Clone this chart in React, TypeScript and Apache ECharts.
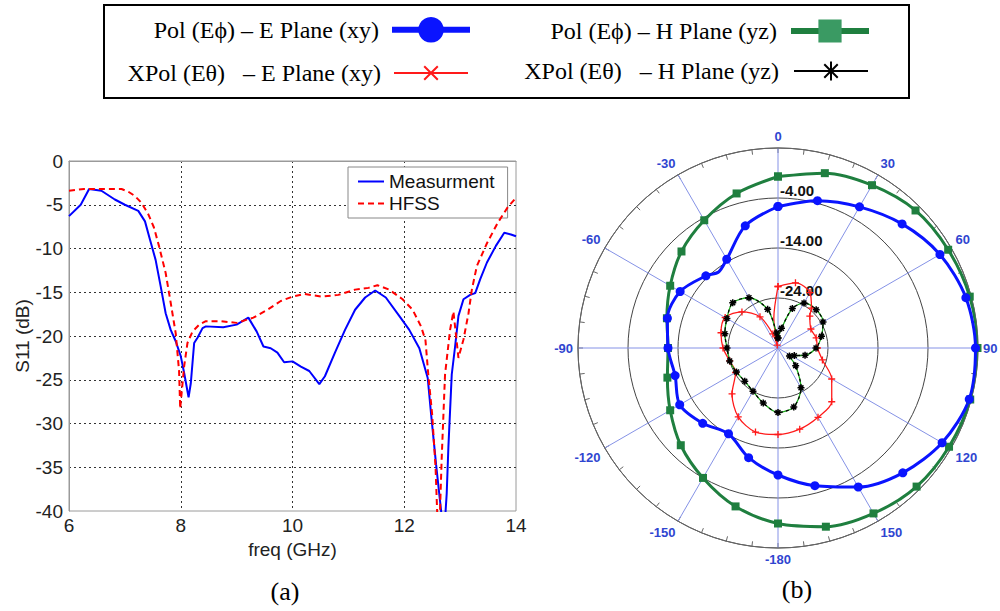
import React, { useEffect, useRef } from 'react';
import * as echarts from 'echarts';

// ---------- (a) S11 data ----------
const measFreq = [6.0, 6.21, 6.36, 6.58, 6.82, 7.0, 7.24, 7.36, 7.45, 7.55, 7.64, 7.73, 7.82, 7.91, 8.0, 8.06, 8.14, 8.18, 8.24, 8.3, 8.39, 8.45, 8.76, 9.0, 9.21, 9.36, 9.48, 9.61, 9.73, 9.85, 10.0, 10.15, 10.3, 10.48, 10.58, 10.76, 10.94, 11.12, 11.3, 11.48, 11.67, 11.91, 12.09, 12.27, 12.42, 12.48, 12.57, 12.66, 12.68, 12.72, 12.76, 12.79, 12.85, 12.91, 12.97, 13.06, 13.18, 13.27, 13.36, 13.48, 13.64, 13.79, 13.91, 14.0];
const measDb = [-6.3, -5.0, -3.2, -3.4, -4.4, -5.0, -5.7, -6.9, -9.0, -11.3, -14.3, -17.4, -19.3, -20.6, -22.3, -24.2, -27.0, -25.4, -20.8, -20.2, -19.1, -18.9, -19.0, -18.7, -17.9, -19.5, -21.2, -21.4, -21.9, -23.0, -22.9, -23.5, -24.0, -25.5, -24.6, -21.9, -19.3, -17.0, -15.6, -14.8, -15.6, -17.7, -19.3, -21.4, -24.8, -28.9, -34.7, -40.0, -42.0, -42.0, -38.0, -32.7, -24.4, -21.2, -17.7, -15.8, -15.3, -15.1, -13.5, -11.6, -9.7, -8.2, -8.4, -8.6];
const hfssFreq = [6.0, 6.27, 6.6, 6.94, 7.06, 7.18, 7.3, 7.42, 7.52, 7.61, 7.73, 7.82, 7.91, 7.97, 7.99, 8.06, 8.12, 8.21, 8.33, 8.45, 8.7, 9.0, 9.3, 9.55, 9.79, 10.0, 10.21, 10.52, 10.82, 11.12, 11.36, 11.52, 11.73, 11.97, 12.15, 12.3, 12.38, 12.43, 12.5, 12.56, 12.6, 12.63, 12.67, 12.73, 12.82, 12.88, 12.97, 13.06, 13.15, 13.21, 13.3, 13.48, 13.67, 13.85, 14.0];
const hfssDb = [-3.4, -3.2, -3.2, -3.2, -3.5, -4.0, -4.8, -6.1, -7.6, -9.7, -12.8, -16.2, -19.7, -24.0, -28.3, -23.5, -20.8, -19.5, -18.7, -18.3, -18.3, -18.5, -17.9, -17.0, -16.0, -15.5, -15.2, -15.5, -15.3, -14.7, -14.5, -14.2, -14.7, -15.8, -17.0, -18.9, -20.5, -24.4, -29.0, -35.0, -42.0, -42.0, -34.0, -24.4, -19.3, -17.2, -22.5, -20.4, -17.4, -14.7, -12.0, -9.4, -7.1, -5.3, -4.2];

// ---------- (b) radiation pattern data (dB, angle in degrees clockwise from top) ----------
const polEAngles = [0, 15, 30, 45, 60, 75, 90, 105, 120, 135, 150, 165, 180, 195, 210, 225, 240, 255, 270, 285, 300, 315, 322, 330, 345, 360];
const polEDb = [-5.7, -3.5, -1.4, 1.1, 3.4, 4.9, 5.5, 5.6, 3.9, 1.3, -1.9, -5.5, -8.6, -11.3, -14.2, -12.7, -11.3, -12.7, -12.0, -11.1, -11.4, -13.6, -14.7, -13.5, -8.7, -5.7];
const polHAngles = [0, 15, 30, 45, 60, 75, 90, 105, 120, 135, 150, 165, 180, 195, 210, 225, 240, 255, 270, 285, 300, 315, 330, 345, 360];
const polHDb = [0.3, 2.2, 3.6, 4.9, 5.3, 5.7, 5.9, 5.8, 5.5, 5.2, 4.2, 3.0, 1.1, -1.2, -4.0, -6.5, -9.1, -11.1, -12.0, -11.0, -9.1, -6.7, -4.5, -2.0, 0.3];
const xpolEAngles = [0, 15, 30, 40, 45, 60, 75, 90, 105, 120, 135, 150, 165, 180, 195, 210, 225, 240, 255, 270, 285, 300, 315, 330, 340, 345, 352, 360];
const xpolEDb = [-21.7, -20.5, -21.2, -23.6, -25.0, -26.4, -26.1, -26.1, -24.8, -21.6, -18.8, -18.0, -17.2, -16.7, -16.6, -18.1, -21.0, -24.2, -24.0, -23.0, -22.2, -21.8, -23.8, -26.8, -31.0, -33.4, -28.0, -21.7];
const xpolHAngles = [0, 10, 20, 30, 45, 60, 75, 90, 105, 115, 125, 135, 150, 165, 180, 195, 210, 225, 240, 255, 270, 285, 300, 315, 330, 345, 355, 360];
const xpolHDb = [-32.0, -30.0, -25.6, -23.6, -23.2, -23.6, -25.0, -26.4, -28.4, -30.4, -31.2, -29.0, -24.8, -21.8, -21.1, -22.6, -24.0, -24.6, -24.4, -24.0, -23.8, -23.0, -22.2, -21.2, -22.4, -26.0, -31.0, -32.0];

// radial scale: centre = -34 dB, rings every 10 dB
const DB_CENTER = -34;
const DB_OUTER = 6;
const RING_STEP = 10;
const angleTickValues = [0, 30, 60, 90, 120, 150, 180, 210, 240, 270, 300, 330];

const NAME_POL_E = 'Pol (Eϕ) – E Plane (xy)';
const NAME_POL_H = 'Pol (Eϕ) – H Plane (yz)';
const NAME_XPOL_E = 'XPol (Eθ)\u00a0\u00a0 – E Plane (xy)';
const NAME_XPOL_H = 'XPol (Eθ)\u00a0\u00a0 – H Plane (yz)';

const PLUS = 'path://M0,5L10,5M5,0L5,10';
const STAR = 'path://M5,0L5,10M1.5,1.5L8.5,8.5M8.5,1.5L1.5,8.5M0,5L10,5';

const SANS = 'Liberation Sans, Arial, sans-serif';
const SERIF = 'Liberation Serif, Times New Roman, serif';

function polarData(angles: number[], db: number[], markEvery: number) {
  return angles.map((a, i) => {
    const v = [db[i] - DB_CENTER, a];
    return a % markEvery === 0 ? v : { value: v, symbol: 'none' };
  });
}

export default function App() {
  const ref = useRef<HTMLDivElement>(null);
  useEffect(() => {
    if (!ref.current) return;
    const chart = echarts.init(ref.current, undefined, { renderer: 'svg' });
    const option: any = {
      animation: false,
      backgroundColor: '#ffffff',
      textStyle: { fontFamily: SANS },
      grid: {
        left: 69, right: 484, top: 161, bottom: 100,
        show: true, borderColor: '#9a9a9a', borderWidth: 1, backgroundColor: 'transparent',
      },
      xAxis: {
        type: 'value', min: 6, max: 14, interval: 2,
        name: 'freq (GHz)', nameLocation: 'middle', nameGap: 27,
        nameTextStyle: { fontSize: 19, color: '#222', fontFamily: SANS },
        axisLine: { show: true, lineStyle: { color: '#9a9a9a' } },
        axisTick: { show: false },
        axisLabel: { fontSize: 19, color: '#222', margin: 5, fontFamily: SANS },
        splitLine: { show: true, showMinLine: false, showMaxLine: false, lineStyle: { type: [2, 3], color: '#333', width: 1 } },
      },
      yAxis: {
        type: 'value', min: -40, max: 0, interval: 5,
        name: 'S11 (dB)', nameLocation: 'middle', nameGap: 34,
        nameTextStyle: { fontSize: 19, color: '#222', fontFamily: SANS },
        axisLine: { show: true, lineStyle: { color: '#9a9a9a' } },
        axisTick: { show: false },
        axisLabel: { fontSize: 19, color: '#222', margin: 6, fontFamily: SANS },
        splitLine: { show: true, showMinLine: false, showMaxLine: false, lineStyle: { type: [2, 3], color: '#333', width: 1 } },
      },
      polar: { center: [778, 348], radius: 200 },
      angleAxis: {
        type: 'value', min: 0, max: 360, interval: 30, startAngle: 90, clockwise: true,
        axisLine: { show: true, lineStyle: { color: '#666', width: 1 } },
        axisTick: { show: true, inside: true, length: 5, lineStyle: { color: '#666' } },
        minorTick: { show: true, splitNumber: 4, length: 5, lineStyle: { color: '#666' } },
        axisLabel: {
          margin: 5, color: '#2f45d0', fontWeight: 'bold', fontSize: 13, fontFamily: SANS,
          formatter: (v: number) => (angleTickValues.indexOf(v) < 0 ? '' : String(v <= 150 ? v : v - 360)),
        },
        splitLine: { show: true, lineStyle: { color: '#8592e6', width: 1 } },
      },
      radiusAxis: {
        type: 'value', min: 0, max: DB_OUTER - DB_CENTER, interval: RING_STEP,
        axisLine: { show: false }, axisTick: { show: false },
        axisLabel: {
          show: true, color: '#111', fontSize: 15, fontWeight: 'bold', fontFamily: SANS,
          align: 'left', verticalAlign: 'bottom', margin: -2,
          formatter: (v: number) => (v <= 0 || v >= DB_OUTER - DB_CENTER ? '' : (v + DB_CENTER).toFixed(2)),
        },
        splitLine: { show: true, lineStyle: { color: '#444', width: 1 } },
      },
      legend: [
        {
          data: ['Measurment', 'HFSS'], left: 348, top: 167, orient: 'vertical',
          itemWidth: 26, itemHeight: 14, itemGap: 3, padding: [5, 13, 5, 9],
          borderColor: '#888', borderWidth: 1, backgroundColor: '#fff',
          selectedMode: false, itemStyle: { opacity: 0 },
          textStyle: { fontSize: 19, color: '#111', fontFamily: SANS },
        },
        {
          data: [NAME_POL_E], right: 527, top: 17, align: 'right', padding: 0,
          itemWidth: 78, itemHeight: 32, selectedMode: false, lineStyle: { width: 6 },
          textStyle: { fontSize: 24, color: '#000', fontFamily: SERIF, padding: [0, 8, 0, 0] },
        },
        {
          data: [NAME_POL_H], right: 128, top: 19, align: 'right', padding: 0,
          itemWidth: 78, itemHeight: 29, selectedMode: false, lineStyle: { width: 6 },
          itemStyle: { color: '#3a9a63' },
          textStyle: { fontSize: 24, color: '#000', fontFamily: SERIF, padding: [0, 9, 0, 0] },
        },
        {
          data: [NAME_XPOL_E], right: 531, top: 58, align: 'right', padding: 0,
          itemWidth: 74, itemHeight: 24, selectedMode: false, lineStyle: { width: 2 },
          symbolRotate: 45, itemStyle: { borderWidth: 2 },
          textStyle: { fontSize: 24, color: '#000', fontFamily: SERIF, padding: [0, 8, 0, 0] },
        },
        {
          data: [NAME_XPOL_H], right: 131, top: 59, align: 'right', padding: 0,
          itemWidth: 74, itemHeight: 24, selectedMode: false,
          lineStyle: { width: 2, color: '#000', type: 'solid' },
          itemStyle: { borderWidth: 2, color: '#000', borderColor: '#000' },
          textStyle: { fontSize: 24, color: '#000', fontFamily: SERIF, padding: [0, 10, 0, 0] },
        },
      ],
      graphic: [
        { type: 'rect', shape: { x: 104, y: 5, width: 805, height: 93 }, style: { fill: 'none', stroke: '#000', lineWidth: 2 }, z: -1 },
        { type: 'text', x: 285, y: 591, style: { text: '(a)', fontSize: 26, fontFamily: SERIF, fill: '#000', align: 'center', verticalAlign: 'middle' } },
        { type: 'text', x: 797, y: 589, style: { text: '(b)', fontSize: 26, fontFamily: SERIF, fill: '#000', align: 'center', verticalAlign: 'middle' } },
      ],
      series: [
        {
          name: 'Measurment', type: 'line', xAxisIndex: 0, yAxisIndex: 0,
          data: measFreq.map((f, i) => [f, measDb[i]]), symbol: 'none',
          lineStyle: { color: '#0000ff', width: 2 }, itemStyle: { color: '#0000ff' }, z: 3,
        },
        {
          name: 'HFSS', type: 'line', xAxisIndex: 0, yAxisIndex: 0,
          data: hfssFreq.map((f, i) => [f, hfssDb[i]]), symbol: 'none',
          lineStyle: { color: '#ff0000', width: 2, type: [6, 4] }, itemStyle: { color: '#ff0000' }, z: 4,
        },
        {
          name: NAME_POL_H, type: 'line', coordinateSystem: 'polar', smooth: 0.3,
          data: polarData(polHAngles, polHDb, 15), symbol: 'rect', symbolSize: 8,
          lineStyle: { color: '#1f7f3f', width: 3 }, itemStyle: { color: '#1f7f3f' },
        },
        {
          name: NAME_POL_E, type: 'line', coordinateSystem: 'polar', smooth: 0.3,
          data: polarData(polEAngles, polEDb, 15), symbol: 'circle', symbolSize: 9,
          lineStyle: { color: '#0a14ff', width: 3 }, itemStyle: { color: '#0a14ff' },
        },
        {
          name: NAME_XPOL_E, type: 'line', coordinateSystem: 'polar', smooth: 0.3,
          data: polarData(xpolEAngles, xpolEDb, 5), symbol: PLUS, symbolSize: 7,
          lineStyle: { color: '#ff1a1a', width: 1.3 },
          itemStyle: { color: '#ff1a1a', borderColor: '#ff1a1a', borderWidth: 1.3 },
        },
        {
          name: 'xpolHBase', type: 'line', coordinateSystem: 'polar', smooth: 0.3,
          data: polarData(xpolHAngles, xpolHDb, 5), symbol: 'none',
          lineStyle: { color: '#20b020', width: 1.3 }, itemStyle: { color: '#20b020' },
        },
        {
          name: NAME_XPOL_H, type: 'line', coordinateSystem: 'polar', smooth: 0.3,
          data: polarData(xpolHAngles, xpolHDb, 5), symbol: STAR, symbolSize: 7,
          lineStyle: { color: '#000', width: 1.3, type: [3, 3] },
          itemStyle: { color: '#000', borderColor: '#000', borderWidth: 1.5 },
        },
      ],
    };
    chart.setOption(option);
    return () => chart.dispose();
  }, []);
  return <div ref={ref} style={{ position: 'absolute', left: 0, top: 0, width: 1000, height: 611 }} />;
}
